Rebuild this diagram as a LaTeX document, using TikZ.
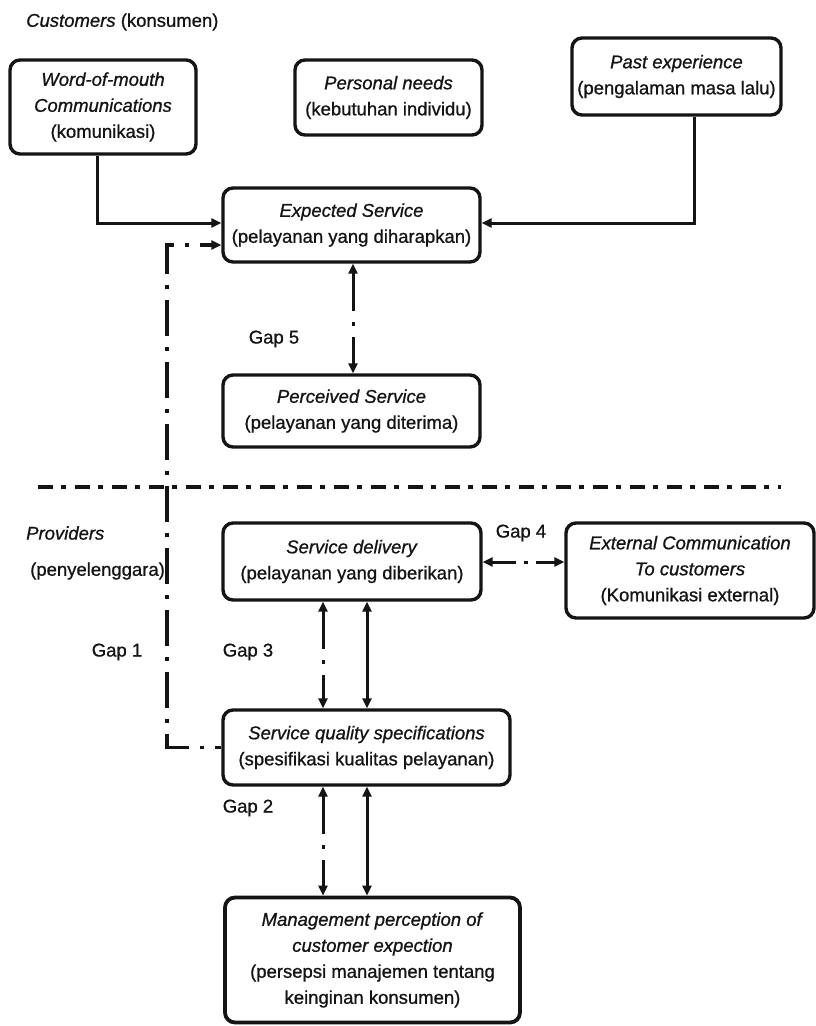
\documentclass[tikz,border=0pt]{standalone}
\usepackage{fontspec}
\setmainfont{Liberation Sans}[FakeBold=0.9]
\usetikzlibrary{arrows.meta,calc}
\begin{document}
\begin{tikzpicture}[x=1pt,y=-1pt,
  box/.style={draw=black!92, line width=3.4pt, rounded corners=10pt, align=center, inner sep=0pt,
    font=\fontsize{18.5}{26}\selectfont, text=black!92},
  lbl/.style={inner sep=0pt, font=\fontsize{18.5}{22}\selectfont, text=black!92},
  conn/.style={draw=black!92, line width=3pt},
  tipend/.style={-{Triangle[length=10pt,width=9pt]}},
  tipboth/.style={{Triangle[length=10pt,width=9pt]}-{Triangle[length=10pt,width=9pt]}},
  gapdash/.style={dash pattern=on 38pt off 11pt on 4pt off 11pt},
  gapdashh/.style={dash pattern=on 24pt off 8pt on 4pt off 8pt},
  gaponedash/.style={dash pattern=on 36pt off 11pt on 4pt off 11pt, dash phase=30pt},
  divider/.style={draw=black!92, line width=4.5pt, dash pattern=on 15pt off 8pt on 5pt off 9pt}]
\useasboundingbox (0,0) rectangle (816,1026);

% labels
\node[lbl, anchor=west] (cust) at (26,22) {\textit{Customers} (konsumen)};
\node[lbl, anchor=west] (prov) at (26,533) {\textit{Providers}};
\node[lbl, anchor=west] (peny) at (30,571) {(penyelenggara)};
\node[lbl] (g5) at (274,339) {Gap 5};
\node[lbl] (g4) at (521,533) {Gap 4};
\node[lbl] (g1) at (117,652) {Gap 1};
\node[lbl] (g3) at (248,652) {Gap 3};
\node[lbl] (g2) at (248,808) {Gap 2};

% boxes
\node[box, minimum width=186pt, minimum height=94pt] (wom) at (103,107)
  {\textit{Word-of-mouth}\\\textit{Communications}\\(komunikasi)};
\node[box, minimum width=187pt, minimum height=75pt] (pn) at (388.5,97.5)
  {\textit{Personal needs}\\(kebutuhan individu)};
\node[box, minimum width=209pt, minimum height=77pt] (pe) at (676.5,76.5)
  {\textit{Past experience}\\(pengalaman masa lalu)};
\node[box, minimum width=257pt, minimum height=74pt] (es) at (351.5,225)
  {\textit{Expected Service}\\(pelayanan yang diharapkan)};
\node[box, minimum width=257pt, minimum height=72pt] (ps) at (351.5,411)
  {\textit{Perceived Service}\\(pelayanan yang diterima)};
\node[box, minimum width=258pt, minimum height=77pt] (sd) at (352,561.5)
  {\textit{Service delivery}\\(pelayanan yang diberikan)};
\node[box, minimum width=248pt, minimum height=95pt] (ec) at (690,570.5)
  {\textit{External Communication}\\\textit{To customers}\\(Komunikasi external)};
\node[box, minimum width=287pt, minimum height=75pt] (sq) at (366.5,747.5)
  {\textit{Service quality specifications}\\(spesifikasi kualitas pelayanan)};
\node[box, line width=3.8pt, minimum width=295pt, minimum height=125pt] (mg) at (372.5,960)
  {\textit{Management perception of}\\\textit{customer expection}\\(persepsi manajemen tentang\\keinginan konsumen)};

% helper coordinates
\coordinate (womx) at (97,223);
\coordinate (pex) at (694,223);
\coordinate (g1c) at (167,245);
\coordinate (x5) at (353,0);
\coordinate (xa) at (323,0);
\coordinate (xb) at (367,0);
\coordinate (y4) at (0,562);

% divider
\draw[divider] (38,487) -- (781,487);

% connectors
\draw[conn, tipend] (wom.south -| womx) -- (womx) -- (es.west |- womx);
\draw[conn, tipend] (pe.south -| pex) -- (pex) -- (es.east |- pex);
\draw[conn, tipend, line width=3.6pt, gaponedash] (sq.west) -| (g1c) -- (es.west |- g1c);
\draw[conn, tipboth, gapdash] (es.south -| x5) -- (ps.north -| x5);
\draw[conn, tipboth, gapdashh] (sd.east |- y4) -- (ec.west |- y4);
\draw[conn, tipboth, gapdash] (sd.south -| xa) -- (sq.north -| xa);
\draw[conn, tipboth] (sd.south -| xb) -- (sq.north -| xb);
\draw[conn, tipboth, gapdash] (sq.south -| xa) -- (mg.north -| xa);
\draw[conn, tipboth] (sq.south -| xb) -- (mg.north -| xb);
\end{tikzpicture}
\end{document}
